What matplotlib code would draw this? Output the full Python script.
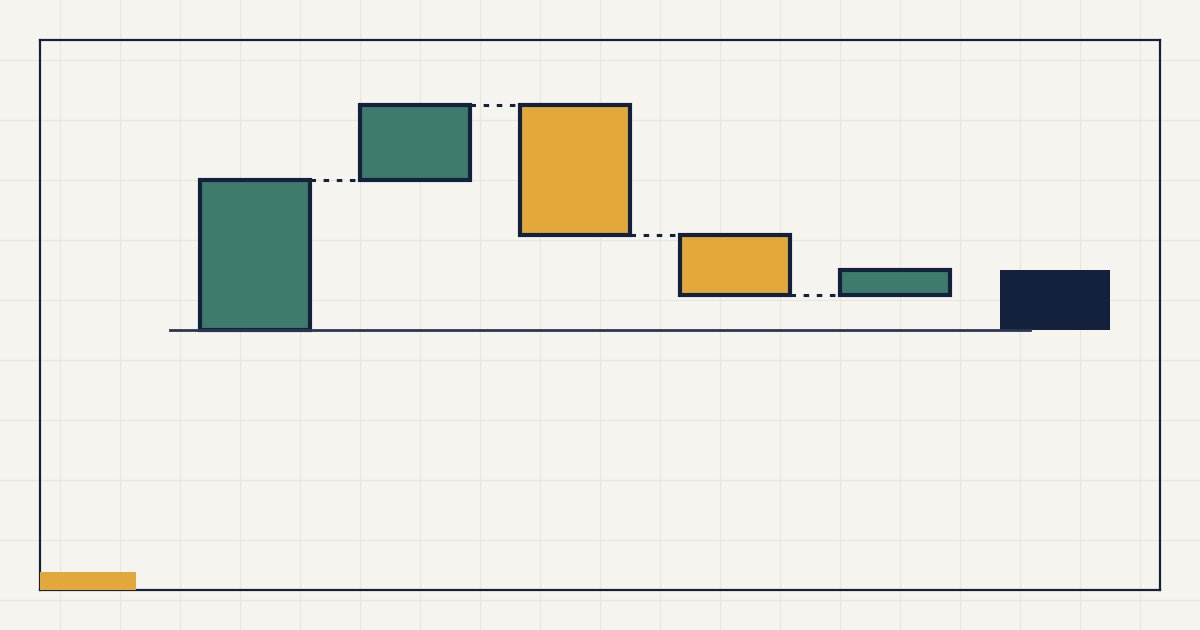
import numpy as np
import matplotlib; matplotlib.use("Agg"); import matplotlib.pyplot as plt
from matplotlib.patches import Rectangle

# waterfall steps (pixel-ish units), last bar is the total
steps = [150, 75, -130, -60, 25]
labels = ["Start", "Step 2", "Step 3", "Step 4", "Step 5", "Total"]
total = sum(steps)

BG, GRID, NAVY = "#f5f4ef", "#e9e6de", "#14213d"
GREEN, ORANGE = "#3e7b6c", "#e3a83c"
W = 110 / 160

fig = plt.figure(figsize=(12, 6.3), dpi=100, facecolor=BG)

# background paper grid
bg = fig.add_axes([0, 0, 1, 1]); bg.set_xlim(0, 1200); bg.set_ylim(630, 0); bg.axis("off")
for gx in range(60, 1200, 60): bg.axvline(gx, color=GRID, lw=0.9, zorder=0)
for gy in range(60, 630, 60): bg.axhline(gy, color=GRID, lw=0.9, zorder=0)

ax = fig.add_axes([40 / 1200, 40 / 630, 1120 / 1200, 550 / 630])
ax.set_facecolor("none")
ax.set_xlim(-215 / 160, 905 / 160); ax.set_ylim(-260, 290)
ax.set_xticks([]); ax.set_yticks([])
for s in ax.spines.values(): s.set_color(NAVY); s.set_linewidth(1.6)

# running levels
ends = np.cumsum(steps); starts = ends - np.array(steps)
x = np.arange(len(steps))
cols = [GREEN if v > 0 else ORANGE for v in steps]
ax.bar(x, steps, bottom=starts, width=W, color=cols, edgecolor=NAVY, linewidth=3, zorder=3)
ax.bar(len(steps), total, width=W, color=NAVY, linewidth=0, zorder=3)

# connectors
for i in range(len(steps) - 1):
    ax.plot([i + W / 2, i + 1 - W / 2], [ends[i], ends[i]], color=NAVY, lw=2.2,
            ls=(0, (1.8, 2.5)), zorder=2)

# baseline
ax.plot([-W / 2 - 30 / 160, len(steps) - W / 2 + 30 / 160], [0, 0], color="#2b3652", lw=2, zorder=4)

# accent tab
ax.add_patch(Rectangle((0, 0), 96 / 1120, 18 / 550, transform=ax.transAxes, color=ORANGE,
                       lw=0, zorder=5, clip_on=False))

fig.savefig("out.png", dpi=100, facecolor=BG)
